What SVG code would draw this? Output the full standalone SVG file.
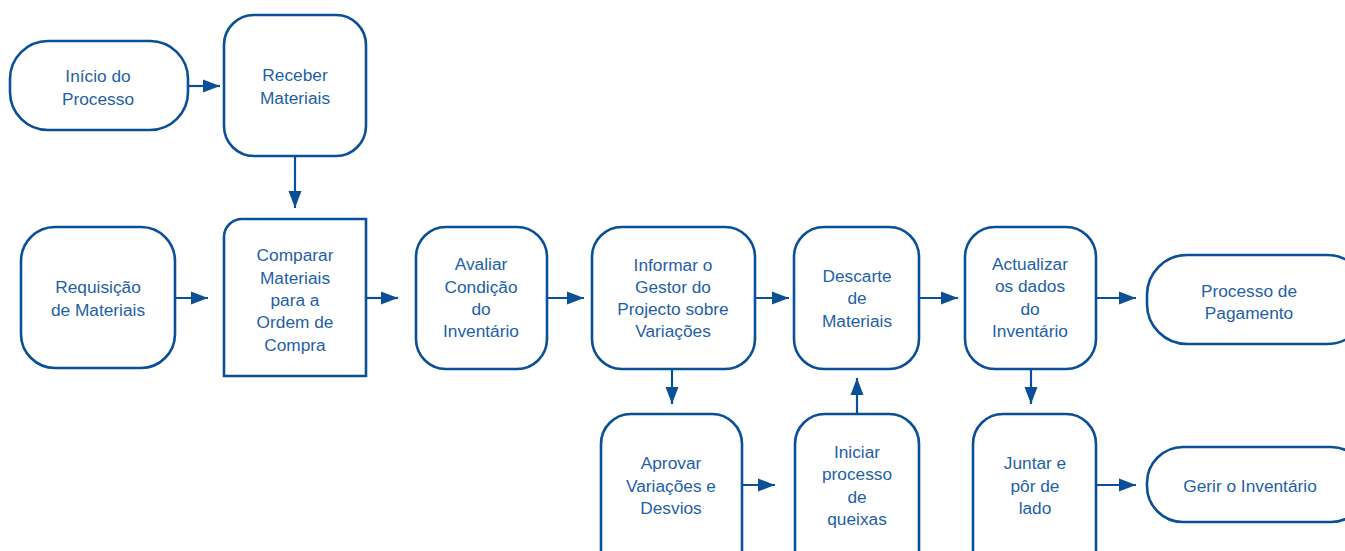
<svg xmlns="http://www.w3.org/2000/svg" width="1345" height="551" viewBox="0 0 1345 551">
  <defs>
    <marker id="arrow" markerUnits="userSpaceOnUse" markerWidth="18" markerHeight="16" viewBox="0 0 18 16" refX="17" refY="8" orient="auto">
      <path d="M0,1.5 L17,8 L0,14.5 Z" fill="#0b4f96"/>
    </marker>
    <style>
      .box { fill: #ffffff; stroke: #0b4f96; stroke-width: 2.6; }
      .lbl { font-family: "Liberation Sans", Arial, sans-serif; font-size: 17.3px; fill: #1f5fa8; text-anchor: middle; }
      .edge { fill: none; stroke: #0b4f96; stroke-width: 2.2; marker-end: url(#arrow); }
    </style>
  </defs>
  <rect width="1345" height="551" fill="#ffffff"/>

  <!-- connectors -->
  <g id="connectors">
    <path class="edge" d="M188,86 H220"/>
    <path class="edge" d="M295,156 V208"/>
    <path class="edge" d="M175,298 H208"/>
    <path class="edge" d="M366,298 H398"/>
    <path class="edge" d="M547,298 H584"/>
    <path class="edge" d="M755,298 H789"/>
    <path class="edge" d="M919,298 H958"/>
    <path class="edge" d="M1096,298 H1136"/>
    <path class="edge" d="M672,369 V404"/>
    <path class="edge" d="M857,414 V378"/>
    <path class="edge" d="M1031,369 V404"/>
    <path class="edge" d="M742,485 H775"/>
    <path class="edge" d="M1096,485 H1136"/>
  </g>

  <!-- nodes -->
  <g id="inicio">
    <rect class="box" x="10" y="41" width="178" height="89" rx="38"/>
    <text class="lbl"><tspan x="98" y="82">Início do</tspan><tspan x="98" y="105">Processo</tspan></text>
  </g>
  <g id="receber">
    <rect class="box" x="224" y="15" width="142" height="141" rx="30"/>
    <text class="lbl"><tspan x="295" y="81">Receber</tspan><tspan x="295" y="104">Materiais</tspan></text>
  </g>
  <g id="requisicao">
    <rect class="box" x="21" y="227" width="154" height="141" rx="34"/>
    <text class="lbl"><tspan x="98" y="293">Requisição</tspan><tspan x="98" y="316">de Materiais</tspan></text>
  </g>
  <g id="comparar">
    <path class="box" d="M224,376 V237 A18,18 0 0 1 242,219 H366 V376 Z"/>
    <text class="lbl"><tspan x="295" y="261">Comparar</tspan><tspan x="295" y="284">Materiais</tspan><tspan x="295" y="306">para a</tspan><tspan x="295" y="328">Ordem de</tspan><tspan x="295" y="351">Compra</tspan></text>
  </g>
  <g id="avaliar">
    <rect class="box" x="416" y="227" width="131" height="142" rx="30"/>
    <text class="lbl"><tspan x="481" y="270">Avaliar</tspan><tspan x="481" y="293">Condição</tspan><tspan x="481" y="315">do</tspan><tspan x="481" y="337">Inventário</tspan></text>
  </g>
  <g id="informar">
    <rect class="box" x="592" y="227" width="163" height="142" rx="30"/>
    <text class="lbl"><tspan x="673" y="271">Informar o</tspan><tspan x="673" y="293">Gestor do</tspan><tspan x="673" y="315">Projecto sobre</tspan><tspan x="673" y="337">Variações</tspan></text>
  </g>
  <g id="descarte">
    <rect class="box" x="794" y="227" width="125" height="142" rx="30"/>
    <text class="lbl"><tspan x="857" y="282">Descarte</tspan><tspan x="857" y="304">de</tspan><tspan x="857" y="327">Materiais</tspan></text>
  </g>
  <g id="actualizar">
    <rect class="box" x="965" y="227" width="131" height="142" rx="30"/>
    <text class="lbl"><tspan x="1030" y="270">Actualizar</tspan><tspan x="1030" y="292">os dados</tspan><tspan x="1030" y="315">do</tspan><tspan x="1030" y="337">Inventário</tspan></text>
  </g>
  <g id="pagamento">
    <rect class="box" x="1147" y="255" width="220" height="89" rx="40"/>
    <text class="lbl"><tspan x="1249" y="297">Processo de</tspan><tspan x="1249" y="319">Pagamento</tspan></text>
  </g>
  <g id="aprovar">
    <rect class="box" x="601" y="414" width="141" height="170" rx="30"/>
    <text class="lbl"><tspan x="671" y="469">Aprovar</tspan><tspan x="671" y="492">Variações e</tspan><tspan x="671" y="514">Desvios</tspan></text>
  </g>
  <g id="iniciar">
    <rect class="box" x="795" y="414" width="124" height="170" rx="30"/>
    <text class="lbl"><tspan x="857" y="458">Iniciar</tspan><tspan x="857" y="480">processo</tspan><tspan x="857" y="503">de</tspan><tspan x="857" y="525">queixas</tspan></text>
  </g>
  <g id="juntar">
    <rect class="box" x="973" y="414" width="123" height="170" rx="30"/>
    <text class="lbl"><tspan x="1035" y="469">Juntar e</tspan><tspan x="1035" y="492">pôr de</tspan><tspan x="1035" y="514">lado</tspan></text>
  </g>
  <g id="gerir">
    <rect class="box" x="1147" y="447" width="220" height="75" rx="36"/>
    <text class="lbl"><tspan x="1250" y="492">Gerir o Inventário</tspan></text>
  </g>
</svg>
